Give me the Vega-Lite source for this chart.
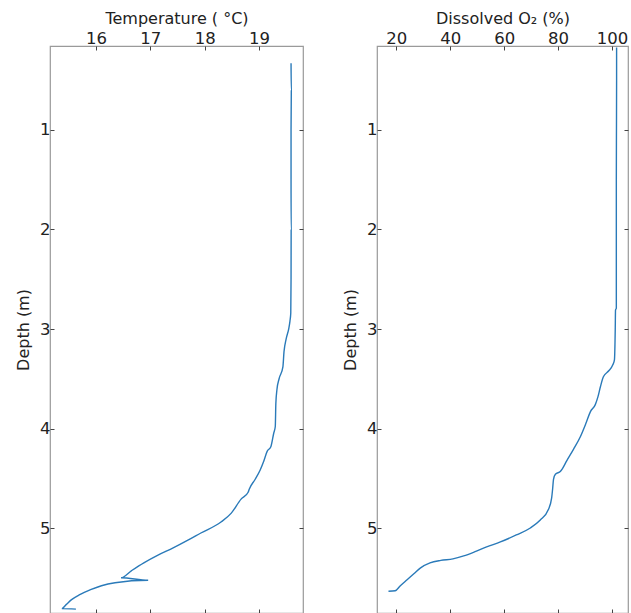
{
  "$schema": "https://vega.github.io/schema/vega-lite/v6.json",
  "background": "white",
  "padding": {"left": 14, "top": 9, "right": 0, "bottom": 0},
  "spacing": 36,
  "config": {
    "view": {"stroke": "#9a9a9a", "strokeWidth": 1.2},
    "font": "DejaVu Sans",
    "axis": {
      "domain": false,
      "grid": false,
      "tickSize": -4,
      "tickColor": "#444",
      "tickWidth": 1,
      "labelFontSize": 16.5,
      "titleFontSize": 16,
      "labelColor": "#222",
      "titleColor": "#222",
      "titleFontWeight": "normal",
      "labelPadding": 4,
      "titlePadding": 4
    },
    "axisLeft": {"titlePadding": 8}
  },
  "datasets": {
    "temp": [
      {"depth": 0.33, "temp": 19.59},
      {"depth": 0.6, "temp": 19.595},
      {"depth": 1.0, "temp": 19.59},
      {"depth": 1.5, "temp": 19.59},
      {"depth": 2.0, "temp": 19.592},
      {"depth": 2.5, "temp": 19.59},
      {"depth": 2.84, "temp": 19.585},
      {"depth": 2.92, "temp": 19.57},
      {"depth": 2.99, "temp": 19.55},
      {"depth": 3.1, "temp": 19.5},
      {"depth": 3.23, "temp": 19.46},
      {"depth": 3.38, "temp": 19.44},
      {"depth": 3.5, "temp": 19.37},
      {"depth": 3.61, "temp": 19.33},
      {"depth": 3.75, "temp": 19.31},
      {"depth": 3.98, "temp": 19.3},
      {"depth": 4.05, "temp": 19.27},
      {"depth": 4.18, "temp": 19.22},
      {"depth": 4.23, "temp": 19.15},
      {"depth": 4.34, "temp": 19.08},
      {"depth": 4.42, "temp": 19.02},
      {"depth": 4.51, "temp": 18.93},
      {"depth": 4.61, "temp": 18.82},
      {"depth": 4.64, "temp": 18.8},
      {"depth": 4.71, "temp": 18.67},
      {"depth": 4.85, "temp": 18.49},
      {"depth": 4.94, "temp": 18.3},
      {"depth": 5.05, "temp": 17.93},
      {"depth": 5.12, "temp": 17.7},
      {"depth": 5.2, "temp": 17.42},
      {"depth": 5.27, "temp": 17.15},
      {"depth": 5.35, "temp": 16.88},
      {"depth": 5.43, "temp": 16.65},
      {"depth": 5.5, "temp": 16.46},
      {"depth": 5.525, "temp": 16.96},
      {"depth": 5.55, "temp": 16.35},
      {"depth": 5.58, "temp": 16.1},
      {"depth": 5.62, "temp": 15.9},
      {"depth": 5.67, "temp": 15.7},
      {"depth": 5.72, "temp": 15.55},
      {"depth": 5.77, "temp": 15.45},
      {"depth": 5.81, "temp": 15.37},
      {"depth": 5.815, "temp": 15.63}
    ],
    "o2": [
      {"depth": 0.17, "o2": 101.7},
      {"depth": 0.5, "o2": 101.7},
      {"depth": 1.0, "o2": 101.65},
      {"depth": 1.5, "o2": 101.6},
      {"depth": 2.0, "o2": 101.6},
      {"depth": 2.5, "o2": 101.6},
      {"depth": 2.79, "o2": 101.6},
      {"depth": 2.81, "o2": 101.3},
      {"depth": 3.0, "o2": 101.2},
      {"depth": 3.31, "o2": 100.9},
      {"depth": 3.36, "o2": 100.3},
      {"depth": 3.42, "o2": 98.8},
      {"depth": 3.48, "o2": 96.8},
      {"depth": 3.58, "o2": 95.7},
      {"depth": 3.68, "o2": 94.8},
      {"depth": 3.76, "o2": 93.8},
      {"depth": 3.83, "o2": 92.0},
      {"depth": 3.95, "o2": 90.3},
      {"depth": 4.08, "o2": 88.3},
      {"depth": 4.21, "o2": 85.7},
      {"depth": 4.32, "o2": 83.3},
      {"depth": 4.43, "o2": 80.9},
      {"depth": 4.46, "o2": 79.0},
      {"depth": 4.51, "o2": 78.3},
      {"depth": 4.6, "o2": 78.0},
      {"depth": 4.7, "o2": 77.6},
      {"depth": 4.815, "o2": 76.4},
      {"depth": 4.92, "o2": 73.4},
      {"depth": 5.0, "o2": 69.7},
      {"depth": 5.07, "o2": 64.5},
      {"depth": 5.14, "o2": 58.6},
      {"depth": 5.19, "o2": 53.5},
      {"depth": 5.24, "o2": 49.0},
      {"depth": 5.28, "o2": 45.0},
      {"depth": 5.31, "o2": 41.0},
      {"depth": 5.325, "o2": 36.5},
      {"depth": 5.35, "o2": 32.5},
      {"depth": 5.4, "o2": 29.0},
      {"depth": 5.46, "o2": 26.5},
      {"depth": 5.52, "o2": 24.0},
      {"depth": 5.58, "o2": 21.5},
      {"depth": 5.63, "o2": 19.6},
      {"depth": 5.635, "o2": 17.1}
    ]
  },
  "hconcat": [
    {
      "width": 253,
      "height": 567,
      "data": {"name": "temp"},
      "layer": [
        {
          "mark": {"type": "line", "color": "#2a7ab9", "strokeWidth": 1.4, "clip": true, "interpolate": "monotone"},
          "encoding": {
            "x": {"field": "temp", "type": "quantitative", "scale": {"domain": [15.153, 19.81], "nice": false, "zero": false},
                  "axis": {"orient": "top", "title": "Temperature ( °C)", "values": [16, 17, 18, 19]}},
            "y": {"field": "depth", "type": "quantitative", "scale": {"domain": [0.156, 5.854], "reverse": true, "nice": false, "zero": false},
                  "axis": {"orient": "left", "title": "Depth (m)", "values": [1, 2, 3, 4, 5]}},
            "order": {"field": "depth", "type": "quantitative"}
          }
        },
        {
          "mark": {"type": "line", "opacity": 0},
          "encoding": {
            "x": {"field": "temp", "type": "quantitative", "axis": {"orient": "bottom", "title": null, "labels": false, "values": [16, 17, 18, 19]}},
            "y": {"field": "depth", "type": "quantitative", "axis": {"orient": "right", "title": null, "labels": false, "values": [1, 2, 3, 4, 5]}},
            "order": {"field": "depth", "type": "quantitative"}
          }
        }
      ],
      "resolve": {"axis": {"x": "independent", "y": "independent"}}
    },
    {
      "width": 251,
      "height": 567,
      "data": {"name": "o2"},
      "layer": [
        {
          "mark": {"type": "line", "color": "#2a7ab9", "strokeWidth": 1.4, "clip": true, "interpolate": "monotone"},
          "encoding": {
            "x": {"field": "o2", "type": "quantitative", "scale": {"domain": [12.84, 105.93], "nice": false, "zero": false},
                  "axis": {"orient": "top", "title": "Dissolved O₂ (%)", "values": [20, 40, 60, 80, 100]}},
            "y": {"field": "depth", "type": "quantitative", "scale": {"domain": [0.156, 5.854], "reverse": true, "nice": false, "zero": false},
                  "axis": {"orient": "left", "title": "Depth (m)", "values": [1, 2, 3, 4, 5]}},
            "order": {"field": "depth", "type": "quantitative"}
          }
        },
        {
          "mark": {"type": "line", "opacity": 0},
          "encoding": {
            "x": {"field": "o2", "type": "quantitative", "axis": {"orient": "bottom", "title": null, "labels": false, "values": [20, 40, 60, 80, 100]}},
            "y": {"field": "depth", "type": "quantitative", "axis": {"orient": "right", "title": null, "labels": false, "values": [1, 2, 3, 4, 5]}},
            "order": {"field": "depth", "type": "quantitative"}
          }
        }
      ],
      "resolve": {"axis": {"x": "independent", "y": "independent"}}
    }
  ]
}
